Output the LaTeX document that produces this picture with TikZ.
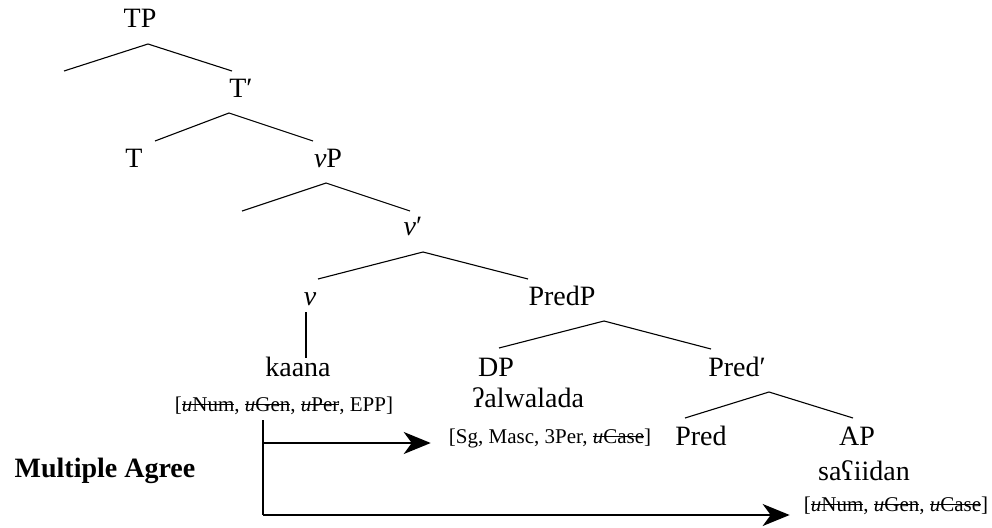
\documentclass[tikz,border=0pt]{standalone}
\usepackage{fontspec}
\setmainfont{Liberation Serif}
\newfontfamily\treefont{Liberation Serif}
\usetikzlibrary{arrows.meta}
\newcommand\mystrike[1]{{\setbox0\hbox{#1}\rlap{\raisebox{0.27em}{\rule{\wd0}{0.055em}}}\box0}}
\begin{document}
\begin{tikzpicture}[x=1pt,y=-1pt,
  lbl/.style={font=\treefont\fontsize{28}{32}\selectfont, inner sep=0pt, anchor=base},
  feat/.style={font=\treefont\fontsize{21}{24}\selectfont, inner sep=0pt, anchor=base},
  branch/.style={line width=1.1pt},
  agree/.style={line width=2pt, -{Stealth[length=27pt,width=22pt,inset=8pt]}}]
\useasboundingbox (0,0) rectangle (992,527);
% labels
\node[lbl] (TP) at (140,28) {TP};
\node[lbl] (Tbar) at (241,97) {T′};
\node[lbl] (T) at (134,167) {T};
\node[lbl] (vP) at (328,167) {\textit{v}P};
\node[lbl] (vbar) at (413,235) {\textit{v}′};
\node[lbl] (v) at (310,305) {\textit{v}};
\node[lbl] (PredP) at (562,305) {PredP};
\node[lbl] (kaana) at (298,376) {kaana};
\node[feat] (kfeat) at (284,411) {[\mystrike{\textit{u}Num}, \mystrike{\textit{u}Gen}, \mystrike{\textit{u}Per}, EPP]};
\node[lbl] (DP) at (496,376) {DP};
\node[lbl] (Predbar) at (737,376) {Pred′};
\node[lbl] (alw) at (528,407) {ʔalwalada};
\node[feat] (dfeat) at (550,443) {[Sg, Masc, 3Per, \mystrike{\textit{u}Case}]};
\node[lbl] (Pred) at (701,445) {Pred};
\node[lbl] (AP) at (857,445) {AP};
\node[lbl] (sai) at (864,480) {saʕiidan};
\node[feat] (afeat) at (896,511) {[\mystrike{\textit{u}Num}, \mystrike{\textit{u}Gen}, \mystrike{\textit{u}Case}]};
\node[font=\treefont\bfseries\fontsize{28}{32}\selectfont, inner sep=0pt, anchor=base] (MA) at (105,477) {Multiple Agree};
% branch points
\coordinate (TPa) at (148,44); \coordinate (TPl) at (64,71); \coordinate (TPr) at (232,71);
\coordinate (Tba) at (229,113); \coordinate (Tbl) at (155,141); \coordinate (Tbr) at (313,141);
\coordinate (vPa) at (326,183); \coordinate (vPl) at (242,211); \coordinate (vPr) at (410,211);
\coordinate (vba) at (423,252); \coordinate (vbl) at (318,279); \coordinate (vbr) at (528,279);
\coordinate (vt) at (306,312); \coordinate (vb) at (306,358);
\coordinate (PPa) at (604,321); \coordinate (PPl) at (499,348); \coordinate (PPr) at (711,349);
\coordinate (Pba) at (769,392); \coordinate (Pbl) at (685,418); \coordinate (Pbr) at (853,418);
\draw[branch] (TPl) -- (TPa) -- (TPr);
\draw[branch] (Tbl) -- (Tba) -- (Tbr);
\draw[branch] (vPl) -- (vPa) -- (vPr);
\draw[branch] (vbl) -- (vba) -- (vbr);
\draw[branch] (vt) -- (vb);
\draw[branch] (PPl) -- (PPa) -- (PPr);
\draw[branch] (Pbl) -- (Pba) -- (Pbr);
% agree arrows
\coordinate (a0) at (263,420);
\coordinate (a1) at (263,443);
\coordinate (a2) at (263,515);
\draw[line width=2pt] (a0) -- (a2);
\draw[agree, shorten >=18pt] (a1) -- (a1 -| dfeat.west);
\draw[agree, shorten >=14pt] (a2) -- (a2 -| afeat.west);
\end{tikzpicture}
\end{document}
